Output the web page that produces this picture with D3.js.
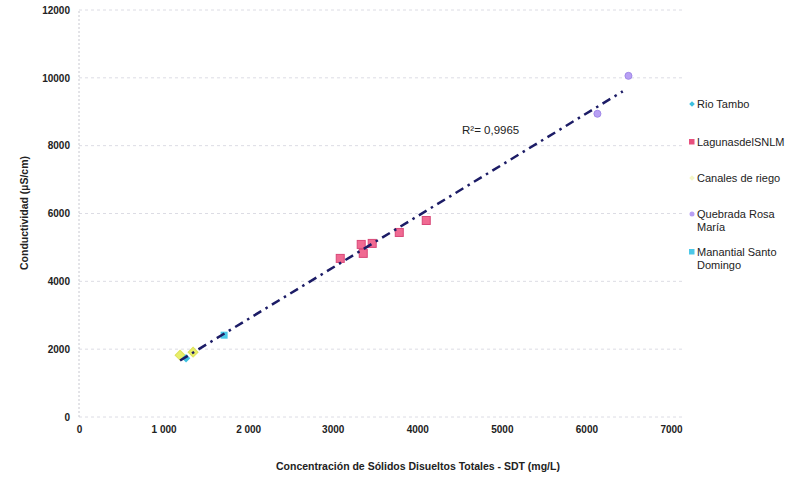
<!DOCTYPE html>
<html><head><meta charset="utf-8">
<script src="https://cdn.jsdelivr.net/npm/d3@7"></script>
<style>
body{margin:0;background:#fff;}
text{font-family:"Liberation Sans",Arial,sans-serif;}
</style></head>
<body><svg id="chart" width="798" height="479"></svg>
<script>
const seriesNames = ["Rio Tambo", "LagunasdelSNLM", "Canales de riego", "Quebrada Rosa María", "Manantial Santo Domingo"];
const rioTamboX = [1266];
const rioTamboY = [1735];
const lagunasX = [3089, 3337, 3361, 3467, 3787, 4106];
const lagunasY = [4676, 5088, 4824, 5118, 5441, 5794];
const canalesX = [1195, 1349];
const canalesY = [1824, 1912];
const quebradaX = [6130, 6497];
const quebradaY = [8941, 10059];
const manantialX = [1716];
const manantialY = [2412];
const xTicks = [0, 1000, 2000, 3000, 4000, 5000, 6000, 7000];
const xTickLabels = ["0", "1 000", "2 000", "3000", "4000", "5000", "6000", "7000"];
const yTicks = [0, 2000, 4000, 6000, 8000, 10000, 12000];
const r2Label = "R²= 0,9965";

const svg = d3.select("#chart");
const x = d3.scaleLinear().domain([0, 7000]).range([79, 671]);
const y = d3.scaleLinear().domain([0, 12000]).range([417, 10]);

// gridlines
svg.append("g").selectAll("line").data(yTicks).join("line")
  .attr("x1", x(0)).attr("x2", 682)
  .attr("y1", d => y(d)).attr("y2", d => y(d))
  .attr("stroke", "#dcdce4").attr("stroke-width", 1).attr("stroke-dasharray", "3,3");
svg.append("line").attr("x1", x(0)).attr("x2", x(0)).attr("y1", y(0)).attr("y2", y(12000))
  .attr("stroke", "#c8c8d0").attr("stroke-dasharray", "2,2");

// axes
const yAxis = d3.axisLeft(y).tickValues(yTicks).tickSize(0).tickPadding(9).tickFormat(d => String(d));
const gy = svg.append("g").attr("transform", `translate(${x(0)},0)`).call(yAxis);
gy.select(".domain").remove();
gy.selectAll("text").attr("font-size", 10).attr("font-weight", "bold").attr("fill", "#222");

const xAxis = d3.axisBottom(x).tickValues(xTicks).tickSize(0).tickPadding(9).tickFormat((d, i) => xTickLabels[i]);
const gx = svg.append("g").attr("transform", `translate(0,${y(0)})`).call(xAxis);
gx.select(".domain").remove();
gx.selectAll("text").attr("font-size", 10).attr("font-weight", "bold").attr("fill", "#222");

// titles
svg.append("text").attr("x", 418).attr("y", 470).attr("text-anchor", "middle")
  .attr("font-size", 10.5).attr("font-weight", "bold").attr("fill", "#222")
  .text("Concentración de Sólidos Disueltos Totales - SDT (mg/L)");
svg.append("text").attr("transform", "translate(28,213) rotate(-90)").attr("text-anchor", "middle")
  .attr("font-size", 10.5).attr("font-weight", "bold").attr("fill", "#222")
  .text("Conductividad (µS/cm)");

// regression from all points
const allX = [].concat(rioTamboX, lagunasX, canalesX, quebradaX, manantialX);
const allY = [].concat(rioTamboY, lagunasY, canalesY, quebradaY, manantialY);
const mx = d3.mean(allX), my = d3.mean(allY);
const slope = d3.sum(allX.map((v, i) => (v - mx) * (allY[i] - my))) / d3.sum(allX.map(v => (v - mx) ** 2));
const icpt = my - slope * mx;
const x0 = d3.min(allX), x1 = 6430;

// points
const pts = (xs, ys) => xs.map((v, i) => [v, ys[i]]);
svg.append("g").selectAll("rect").data(pts(canalesX, canalesY)).join("rect")
  .attr("x", d => x(d[0]) - 3.5).attr("y", d => y(d[1]) - 3.5).attr("width", 7).attr("height", 7)
  .attr("transform", d => `rotate(45,${x(d[0])},${y(d[1])})`)
  .attr("fill", "#e8ee6a").attr("stroke", "#dde25a");
svg.append("g").selectAll("rect").data(pts(rioTamboX, rioTamboY)).join("rect")
  .attr("x", d => x(d[0]) - 3).attr("y", d => y(d[1]) - 3).attr("width", 6).attr("height", 6)
  .attr("transform", d => `rotate(45,${x(d[0])},${y(d[1])})`)
  .attr("fill", "#3cc0e0");
svg.append("g").selectAll("rect").data(pts(manantialX, manantialY)).join("rect")
  .attr("x", d => x(d[0]) - 3.5).attr("y", d => y(d[1]) - 3.5).attr("width", 7).attr("height", 7)
  .attr("fill", "#4cc8e8");
svg.append("g").selectAll("rect").data(pts(lagunasX, lagunasY)).join("rect")
  .attr("x", d => x(d[0]) - 4).attr("y", d => y(d[1]) - 4).attr("width", 8).attr("height", 8)
  .attr("fill", "#f06a92").attr("stroke", "#d84878").attr("stroke-width", 1);
svg.append("g").selectAll("circle").data(pts(quebradaX, quebradaY)).join("circle")
  .attr("cx", d => x(d[0])).attr("cy", d => y(d[1])).attr("r", 3.5)
  .attr("fill", "#b8a0f4").attr("stroke", "#a088e8");

// trendline
svg.append("line")
  .attr("x1", x(x0)).attr("y1", y(slope * x0 + icpt))
  .attr("x2", x(x1)).attr("y2", y(slope * x1 + icpt))
  .attr("stroke", "#1c1c66").attr("stroke-width", 2.5).attr("stroke-dasharray", "9,5,2.5,5");

svg.append("text").attr("x", 462).attr("y", 134).attr("font-size", 11.5).attr("fill", "#222").text(r2Label);

// legend
const legend = [
  {name: ["Rio Tambo"], y: 104, shape: "diamond", color: "#3cc0e0"},
  {name: ["LagunasdelSNLM"], y: 142, shape: "square", color: "#e8507e"},
  {name: ["Canales de riego"], y: 178, shape: "diamond", color: "#f4f6c8"},
  {name: ["Quebrada Rosa", "María"], y: 214, shape: "circle", color: "#b8a0f4"},
  {name: ["Manantial Santo", "Domingo"], y: 252, shape: "square", color: "#4cc8e8"}
];
const lg = svg.append("g").selectAll("g").data(legend).join("g");
lg.each(function(d) {
  const g = d3.select(this);
  if (d.shape === "circle") g.append("circle").attr("cx", 692).attr("cy", d.y).attr("r", 2.5).attr("fill", d.color);
  else if (d.shape === "diamond") g.append("rect").attr("x", 690).attr("y", d.y - 2).attr("width", 4).attr("height", 4)
    .attr("transform", `rotate(45,692,${d.y})`).attr("fill", d.color);
  else g.append("rect").attr("x", 689).attr("y", d.y - 3).attr("width", 5.5).attr("height", 5.5).attr("fill", d.color);
  d.name.forEach((t, i) => g.append("text").attr("x", 697).attr("y", d.y + 4 + i * 12.5)
    .attr("font-size", 11).attr("fill", "#222").text(t));
});
</script></body></html>
